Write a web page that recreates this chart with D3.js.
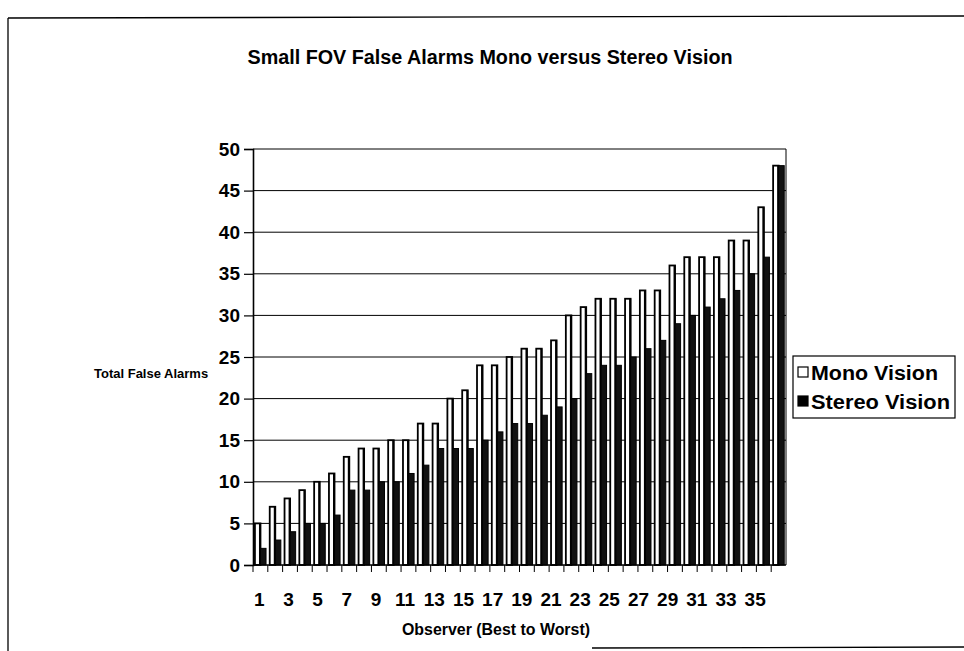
<!DOCTYPE html>
<html>
<head>
<meta charset="utf-8">
<script src="https://cdn.jsdelivr.net/npm/d3@7"></script>
<style>
  html, body { margin: 0; padding: 0; background: #fff; }
  svg { display: block; }
  text { font-family: "Liberation Sans", Arial, sans-serif; font-weight: bold; fill: #000; }
</style>
</head>
<body>
<svg id="chart" width="964" height="651"></svg>
<script>
// ---- data ----
const observers = d3.range(1, 37);
const monoVision = [5,7,8,9,10,11,13,14,14,15,15,17,17,20,21,24,24,25,26,26,27,30,31,32,32,32,33,33,36,37,37,37,39,39,43,48];
const stereoVision = [2,3,4,5,5,6,9,9,10,10,11,12,14,14,14,15,16,17,17,18,19,20,23,24,24,25,26,27,29,30,31,32,33,35,37,48];
const yTicks = [0,5,10,15,20,25,30,35,40,45,50];
const xTickLabels = observers.filter(d => d % 2 === 1);
const seriesNames = ["Mono Vision", "Stereo Vision"];
const chartTitle = "Small FOV False Alarms Mono versus Stereo Vision";
const xTitle = "Observer (Best to Worst)";
const yTitle = "Total False Alarms";

const svg = d3.select("#chart");
const FONT = '"Liberation Sans", Arial, sans-serif';

// outer frame (scanned page border)
svg.append("line").attr("x1", 8).attr("y1", 18).attr("x2", 964).attr("y2", 16).attr("stroke", "#000").attr("stroke-width", 1.3);
svg.append("line").attr("x1", 8).attr("y1", 18).attr("x2", 8).attr("y2", 651).attr("stroke", "#000").attr("stroke-width", 1.3);
svg.append("line").attr("x1", 592).attr("y1", 648).attr("x2", 964).attr("y2", 647).attr("stroke", "#000").attr("stroke-width", 1.3);

const plot = { left: 253, right: 786, top: 149, bottom: 565 };

// back row (bars) and front floor edge (labels / ticks) of the 3-D plot
const x = d3.scaleBand().domain(observers).range([plot.left, plot.right]).padding(0);
const xFront = d3.scaleBand().domain(observers).range([plot.left - 1, 777]).padding(0);
const xs = d3.scaleBand().domain(seriesNames).range([x.bandwidth() * 0.13, x.bandwidth() * 0.88]).padding(0);
const y = d3.scaleLinear().domain([0, 50]).range([plot.bottom, plot.top]);

// title
svg.append("text").attr("x", 490).attr("y", 64).attr("text-anchor", "middle")
  .attr("font-size", 20).attr("textLength", 485).attr("lengthAdjust", "spacingAndGlyphs")
  .text(chartTitle);

// gridlines
svg.append("g").selectAll("line").data(yTicks.filter(d => d > 0)).join("line")
  .attr("x1", plot.left).attr("x2", plot.right)
  .attr("y1", d => y(d)).attr("y2", d => y(d))
  .attr("stroke", "#000").attr("stroke-width", 1);

// right wall edge
svg.append("line").attr("x1", plot.right).attr("x2", plot.right)
  .attr("y1", plot.top).attr("y2", plot.bottom).attr("stroke", "#000").attr("stroke-width", 1);

// y axis
const yAxis = d3.axisLeft(y).tickValues(yTicks).tickSize(9).tickPadding(4);
const gy = svg.append("g").attr("transform", `translate(${plot.left},0)`).call(yAxis);
gy.select(".domain").attr("stroke-width", 1.6);
gy.selectAll(".tick line").attr("stroke-width", 1.2);
gy.selectAll("text").attr("font-size", 19).attr("font-family", FONT).attr("font-weight", "bold");

// bars
const groups = svg.append("g").selectAll("g").data(observers).join("g")
  .attr("transform", d => `translate(${x(d)},0)`);

groups.append("rect")
  .attr("x", xs("Mono Vision"))
  .attr("width", xs.bandwidth())
  .attr("y", (d, i) => y(monoVision[i]))
  .attr("height", (d, i) => y(0) - y(monoVision[i]))
  .attr("fill", "#fff").attr("stroke", "#000").attr("stroke-width", 1.8);

groups.append("rect")
  .attr("x", () => xs("Mono Vision") + xs.bandwidth() - 1.5)
  .attr("width", 2)
  .attr("y", (d, i) => y(monoVision[i]))
  .attr("height", (d, i) => y(0) - y(monoVision[i]))
  .attr("fill", "#000");

groups.append("rect")
  .attr("x", xs("Stereo Vision"))
  .attr("width", xs.bandwidth())
  .attr("y", (d, i) => y(stereoVision[i]))
  .attr("height", (d, i) => y(0) - y(stereoVision[i]))
  .attr("fill", "#111").attr("stroke", "#000").attr("stroke-width", 1);

// x axis (front floor edge)
svg.append("line").attr("x1", plot.left).attr("x2", plot.right)
  .attr("y1", plot.bottom).attr("y2", plot.bottom).attr("stroke", "#000").attr("stroke-width", 1.6);
const xAxis = d3.axisBottom(xFront).tickSize(0).tickFormat(d => xTickLabels.includes(d) ? d : "");
const gx = svg.append("g").attr("transform", `translate(0,${plot.bottom})`).call(xAxis);
gx.select(".domain").remove();
gx.selectAll("text").attr("font-size", 19).attr("dy", 0).attr("y", 41)
  .attr("font-family", FONT).attr("font-weight", "bold");
// small ticks at group boundaries
svg.append("g").selectAll("line").data(observers).join("line")
  .attr("x1", d => x(d)).attr("x2", d => x(d))
  .attr("y1", plot.bottom).attr("y2", plot.bottom + 7)
  .attr("stroke", "#000").attr("stroke-width", 1);

// axis titles
svg.append("text").attr("x", 496).attr("y", 635).attr("text-anchor", "middle")
  .attr("font-size", 17).attr("textLength", 188).attr("lengthAdjust", "spacingAndGlyphs")
  .text(xTitle);
svg.append("text").attr("x", 94).attr("y", 378)
  .attr("font-size", 13)
  .text(yTitle);

// legend
const legend = svg.append("g").attr("transform", "translate(793,356)");
legend.append("rect").attr("width", 162).attr("height", 62).attr("fill", "#fff").attr("stroke", "#000").attr("stroke-width", 1.2);
const colors = ["#fff", "#000"];
const legendWidths = [127, 139];
seriesNames.forEach((name, i) => {
  legend.append("rect").attr("x", 5).attr("y", 11 + i * 29).attr("width", 10).attr("height", 10)
    .attr("fill", colors[i]).attr("stroke", "#000").attr("stroke-width", 1.2);
  legend.append("text").attr("x", 18).attr("y", 24 + i * 29).attr("font-size", 20)
    .attr("textLength", legendWidths[i]).attr("lengthAdjust", "spacingAndGlyphs").text(name);
});
</script>
</body>
</html>
